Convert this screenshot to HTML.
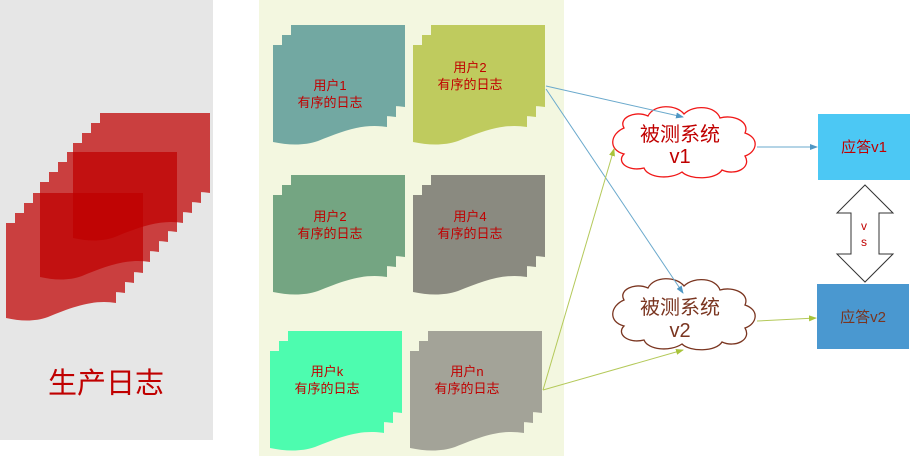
<!DOCTYPE html>
<html><head><meta charset="utf-8"><style>
html,body{margin:0;padding:0;background:#fff;width:910px;height:456px;overflow:hidden}
svg text{font-family:"Liberation Sans","Noto Sans CJK SC",sans-serif}
</style></head><body>
<svg width="910" height="456" viewBox="0 0 910 456" xmlns="http://www.w3.org/2000/svg">
<defs>
<path id="d" d="M0,0 H114 V82 C90,78 70,86 45,96 C30,101 15,100 0,97 Z"/>
<path id="big" d="M0,0 H110 V80 C88,76 66,84 42,94 C28,99 14,98 0,95 Z"/>
<marker id="ab" markerWidth="8" markerHeight="8" refX="7" refY="4" orient="auto" markerUnits="userSpaceOnUse"><path d="M0,1 L8,4 L0,7 Z" fill="#4f97c4"/></marker>
<marker id="ag" markerWidth="8" markerHeight="8" refX="7" refY="4" orient="auto" markerUnits="userSpaceOnUse"><path d="M0,1 L8,4 L0,7 Z" fill="#a9c43a"/></marker>
</defs>
<rect x="0" y="0" width="213" height="440" fill="#e6e6e6"/>
<g opacity="0.72" fill="#c00000">
 <g><use href="#big" x="33" y="193"/><use href="#big" x="24" y="203"/><use href="#big" x="15" y="213"/><use href="#big" x="6" y="223"/></g>
</g>
<g opacity="0.72" fill="#c00000">
 <g><use href="#big" x="67" y="152"/><use href="#big" x="58" y="162"/><use href="#big" x="49" y="172"/><use href="#big" x="40" y="182"/></g>
</g>
<g opacity="0.72" fill="#c00000">
 <g><use href="#big" x="100" y="113"/><use href="#big" x="91" y="123"/><use href="#big" x="82" y="133"/><use href="#big" x="73" y="143"/></g>
</g>
<text x="106" y="393" font-size="29" fill="#c00000" text-anchor="middle">生产日志</text>

<rect x="259" y="0" width="305" height="456" fill="#f3f7e0"/>
<g fill="#72a8a2"><use href="#d" x="291" y="25"/><use href="#d" x="282" y="35"/><use href="#d" x="273" y="45"/></g>
<g fill="#bfcb5e"><use href="#d" x="431" y="25"/><use href="#d" x="422" y="35"/><use href="#d" x="413" y="45"/></g>
<g fill="#74a582"><use href="#d" x="291" y="175"/><use href="#d" x="282" y="185"/><use href="#d" x="273" y="195"/></g>
<g fill="#8a8a80"><use href="#d" x="431" y="175"/><use href="#d" x="422" y="185"/><use href="#d" x="413" y="195"/></g>
<g fill="#4dfcaf"><use href="#d" x="288" y="331"/><use href="#d" x="279" y="341"/><use href="#d" x="270" y="351"/></g>
<g fill="#a3a398"><use href="#d" x="428" y="331"/><use href="#d" x="419" y="341"/><use href="#d" x="410" y="351"/></g>
<g font-size="13" fill="#c00000" text-anchor="middle">
<text x="330" y="90">用户1</text><text x="330" y="107">有序的日志</text>
<text x="470" y="72">用户2</text><text x="470" y="89">有序的日志</text>
<text x="330" y="221">用户2</text><text x="330" y="238">有序的日志</text>
<text x="470" y="221">用户4</text><text x="470" y="238">有序的日志</text>
<text x="327" y="376">用户k</text><text x="327" y="393">有序的日志</text>
<text x="467" y="376">用户n</text><text x="467" y="393">有序的日志</text>
</g>

<g fill="#fff" stroke-width="1.3">
<path stroke="#f01818" d="M624,128 C618,118 635,110 648,116 C654,104 676,104 684,114 C694,104 716,106 720,118 C734,114 750,122 745,133 C760,138 757,152 745,156 C752,168 735,176 722,170 C716,180 690,180 682,172 C670,180 648,178 644,168 C628,172 616,162 624,154 C608,150 610,134 624,128 Z"/>
<path stroke="#7a3520" d="M624,300 C618,290 635,282 648,288 C654,276 676,276 684,286 C694,276 716,278 720,290 C734,286 750,294 745,305 C760,310 757,324 745,328 C752,340 735,348 722,342 C716,352 690,352 682,344 C670,352 648,350 644,340 C628,344 616,334 624,326 C608,322 610,306 624,300 Z"/>
</g>
<text x="680" y="141" font-size="20" fill="#c00000" text-anchor="middle">被测系统</text>
<text x="680" y="163" font-size="20" fill="#c00000" text-anchor="middle">v1</text>
<text x="680" y="314" font-size="20" fill="#7a3520" text-anchor="middle">被测系统</text>
<text x="680" y="337" font-size="20" fill="#7a3520" text-anchor="middle">v2</text>

<g stroke-width="1" fill="none">
<line x1="546" y1="86" x2="683" y2="117" stroke="#6aa9cc" marker-end="url(#ab)"/>
<line x1="546" y1="89" x2="683" y2="293" stroke="#6aa9cc" marker-end="url(#ab)"/>
<line x1="543" y1="390" x2="614" y2="149" stroke="#b4c95a" marker-end="url(#ag)"/>
<line x1="543" y1="390" x2="683" y2="350" stroke="#b4c95a" marker-end="url(#ag)"/>
<line x1="757" y1="147" x2="817" y2="147" stroke="#6aa9cc" marker-end="url(#ab)"/>
<line x1="757" y1="321" x2="816" y2="318" stroke="#b4c95a" marker-end="url(#ag)"/>
</g>

<rect x="818" y="114" width="92" height="66" fill="#4cc8f4"/>
<text x="864" y="152" font-size="15" fill="#c00000" text-anchor="middle">应答v1</text>
<rect x="817" y="284" width="92" height="65" fill="#4a98d0"/>
<text x="863" y="322" font-size="15" fill="#7a3520" text-anchor="middle">应答v2</text>

<path d="M865,185 L893,213 L879,213 L879,254 L893,254 L865,282 L837,254 L851,254 L851,213 L837,213 Z" fill="#fff" stroke="#333" stroke-width="1"/>
<text x="864" y="230" font-size="12" fill="#c00000" text-anchor="middle">v</text>
<text x="864" y="246" font-size="12" fill="#c00000" text-anchor="middle">s</text>
</svg>
</body></html>
